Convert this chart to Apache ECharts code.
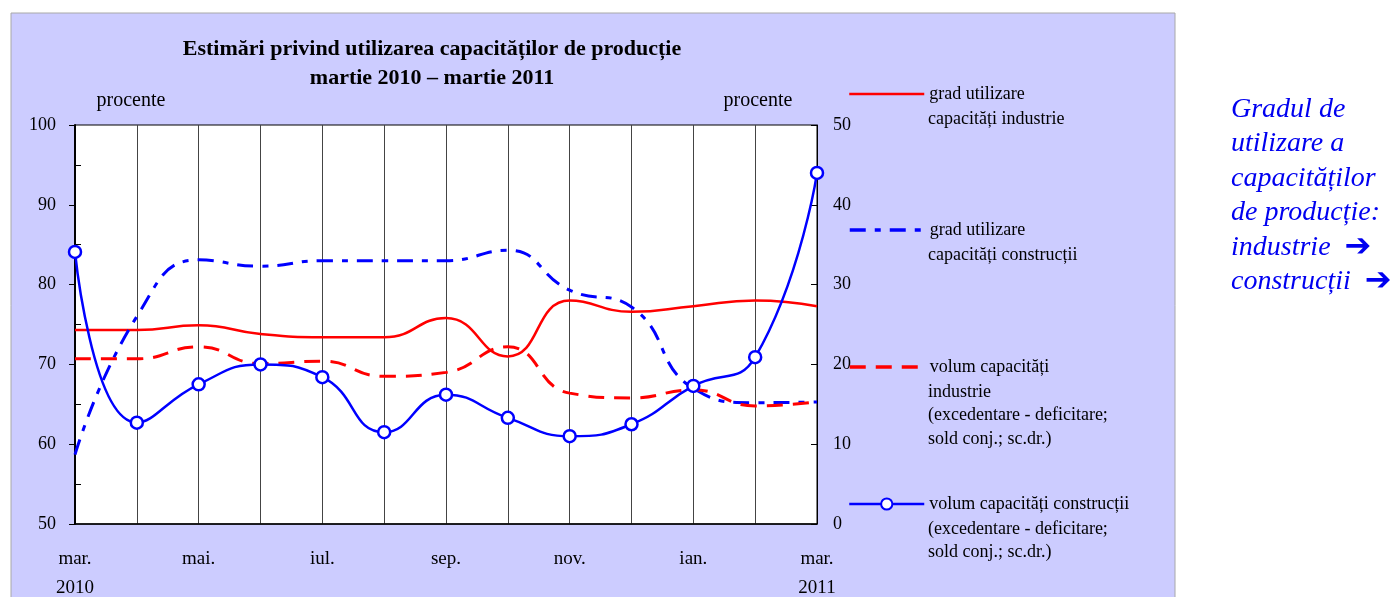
<!DOCTYPE html>
<html>
<head>
<meta charset="utf-8">
<script src="https://cdn.jsdelivr.net/npm/echarts@6/dist/echarts.min.js"></script>
<style>
  html, body { margin: 0; padding: 0; background: #fff; }
  #chart { width: 1396px; height: 597px; }
</style>
</head>
<body>
<div id="chart"></div>
<script>
  // luni: mar. 2010 - mar. 2011
  var months = ['mar.\n2010', 'apr.', 'mai.', 'iun.', 'iul.', 'aug.', 'sep.', 'oct.', 'nov.', 'dec.', 'ian.', 'feb.', 'mar.\n2011'];

  // axa stanga (procente)
  var gradIndustrie = [74.3, 74.3, 74.9, 73.8, 73.4, 73.4, 75.8, 71.0, 78.0, 76.6, 77.3, 78.0, 77.3];
  var gradConstructii = [58.7, 76.0, 83.1, 82.3, 83.0, 83.0, 83.0, 84.3, 79.3, 77.2, 67.0, 65.2, 65.3];
  // axa dreapta (sold conjunctural)
  var volumIndustrie = [20.7, 20.7, 22.2, 20.1, 20.4, 18.5, 19.0, 22.2, 16.4, 15.8, 16.8, 14.8, 15.3];
  var volumConstructii = [34.1, 12.7, 17.5, 20.0, 18.4, 11.5, 16.2, 13.3, 11.0, 12.5, 17.3, 20.9, 44.0];

  var leftTicks = [50, 100, 10];
  var rightTicks = [0, 50, 10];

  var names = [
    'grad utilizare capacități industrie',
    'grad utilizare capacități construcții',
    'volum capacități industrie',
    'volum capacități construcții'
  ];
  var legendLines = [
    ['grad utilizare', 'capacități industrie'],
    ['grad utilizare', 'capacități construcții'],
    ['volum capacități', 'industrie', '(excedentare - deficitare;', 'sold conj.; sc.dr.)'],
    ['volum capacități construcții', '(excedentare - deficitare;', 'sold conj.; sc.dr.)']
  ];
  var legendY = [92, 228, 365, 502];
  var legendWidth = [2.5, 3.5, 3.5, 2.5];

  var font = '"Liberation Serif", "Times New Roman", serif';
  var chart = echarts.init(document.getElementById('chart'));

  var legends = names.map(function (n, i) {
    return {
      data: [n],
      left: 848,
      top: legendY[i] - 7,
      padding: 0,
      itemWidth: 75,
      itemHeight: 14,
      selectedMode: false,
      itemStyle: i < 3 ? { opacity: 0 } : {},
      lineStyle: { width: legendWidth[i] },
      formatter: function () { return legendLines[i][0]; },
      textStyle: { fontFamily: font, fontSize: 18, color: '#000', padding: [6, 0, 0, 0] }
    };
  });

  var graphics = [
    { type: 'rect', z: -100, shape: { x: 11, y: 13, width: 1164, height: 600 },
      style: { fill: '#CCCCFF', stroke: '#A8A8A8', lineWidth: 1 } },
    { type: 'text', x: 432, y: 49, style: { text: 'Estimări privind utilizarea capacităților de producție',
      font: 'bold 22px ' + font, fill: '#000', align: 'center', verticalAlign: 'middle' } },
    { type: 'text', x: 432, y: 78, style: { text: 'martie 2010 – martie 2011',
      font: 'bold 22px ' + font, fill: '#000', align: 'center', verticalAlign: 'middle' } },
    { type: 'text', x: 131, y: 101, style: { text: 'procente', font: '20px ' + font, fill: '#000', align: 'center', verticalAlign: 'middle' } },
    { type: 'text', x: 758, y: 101, style: { text: 'procente', font: '20px ' + font, fill: '#000', align: 'center', verticalAlign: 'middle' } },
    { type: 'text', x: 1231, y: 92, style: {
      text: 'Gradul de\nutilizare a\ncapacităților\nde producție:\nindustrie{a|➔}\nconstrucții{a|➔}',
      font: 'italic 28px ' + font, fill: '#0000F0', lineHeight: 34.5, verticalAlign: 'top',
      rich: { a: { fontFamily: '"DejaVu Sans"', fontWeight: 'bold', fontSize: 32, fill: '#0000F0',
        lineHeight: 34.5, padding: [0, 0, 0, 14] } } } }
  ];
  legendLines.forEach(function (lines, i) {
    if (lines.length > 1) {
      graphics.push({ type: 'text', x: 928, y: legendY[i] + 3 + 23.8 - 11.9, style: {
        text: lines.slice(1).join('\n'), font: '18px ' + font, fill: '#000',
        lineHeight: 23.8, verticalAlign: 'top' } });
    }
  });

  chart.setOption({
    animation: false,
    backgroundColor: 'transparent',
    textStyle: { fontFamily: font },
    graphic: graphics,
    legend: legends,
    grid: { left: 75, top: 125, width: 742, height: 399, show: true, backgroundColor: '#fff',
      borderColor: '#000', borderWidth: 1, outerBoundsMode: 'none', containLabel: false },
    xAxis: {
      type: 'category', data: months, boundaryGap: false,
      axisLine: { lineStyle: { color: '#000', width: 1.5 } },
      axisTick: { show: false },
      axisLabel: { interval: 1, margin: 21, fontSize: 19, lineHeight: 29, color: '#000', fontFamily: font },
      splitLine: { show: true, interval: 0, lineStyle: { color: '#444', width: 1 } }
    },
    yAxis: [
      { type: 'value', position: 'left', min: leftTicks[0], max: leftTicks[1], interval: leftTicks[2],
        axisLine: { show: true, lineStyle: { color: '#000', width: 2 } },
        axisTick: { show: true, length: 6, lineStyle: { color: '#000' } },
        axisLabel: { margin: 19, fontSize: 18, color: '#000', fontFamily: font },
        splitLine: { show: false } },
      { type: 'value', position: 'right', min: rightTicks[0], max: rightTicks[1], interval: rightTicks[2],
        axisLine: { show: true, lineStyle: { color: '#000', width: 1 } },
        axisTick: { show: true, inside: true, length: 6, lineStyle: { color: '#000' } },
        axisLabel: { margin: 16, fontSize: 18, color: '#000', fontFamily: font },
        splitLine: { show: false } },
      { type: 'value', position: 'left', min: leftTicks[0], max: leftTicks[1], interval: leftTicks[2],
        axisLine: { show: false }, axisLabel: { show: false },
        axisTick: { show: false, inside: true },
        minorTick: { show: true, splitNumber: 2, length: 6, lineStyle: { color: '#000', width: 1 } },
        splitLine: { show: false } }
    ],
    series: [
      { name: names[0], type: 'line', yAxisIndex: 0, data: gradIndustrie, smooth: 0.5, symbol: 'none',
        lineStyle: { color: '#FF0000', width: 2.5 }, itemStyle: { color: '#FF0000' } },
      { name: names[1], type: 'line', yAxisIndex: 0, data: gradConstructii, smooth: 0.5, symbol: 'none',
        lineStyle: { color: '#0000FF', width: 3, type: [16, 9, 6, 9] }, itemStyle: { color: '#0000FF' } },
      { name: names[2], type: 'line', yAxisIndex: 1, data: volumIndustrie, smooth: 0.5, symbol: 'none',
        lineStyle: { color: '#FF0000', width: 3, type: [16, 10] }, itemStyle: { color: '#FF0000' } },
      { name: names[3], type: 'line', yAxisIndex: 1, data: volumConstructii, smooth: 0.5,
        symbol: 'circle', symbolSize: 12, showAllSymbol: true,
        lineStyle: { color: '#0000FF', width: 2.5 },
        itemStyle: { color: '#fff', borderColor: '#0000FF', borderWidth: 2.5 }, z: 3 }
    ]
  });
</script>
</body>
</html>
